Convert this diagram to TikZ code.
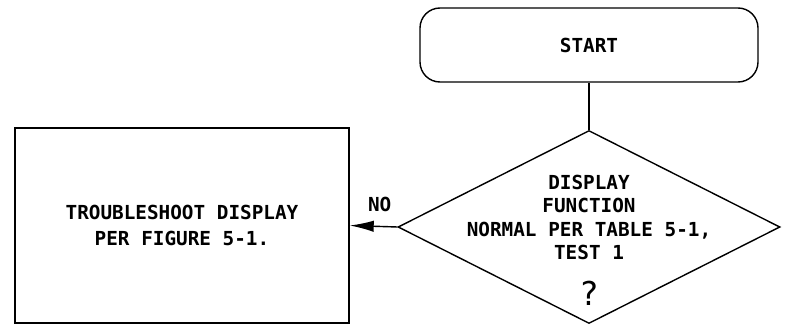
\documentclass[tikz,border=0pt]{standalone}
\usepackage{fontspec}
\setmonofont{DejaVu Sans Mono}
\usetikzlibrary{shapes.geometric, arrows.meta}

\begin{document}
\begin{tikzpicture}[
  font=\ttfamily\bfseries\fontsize{16.5}{20}\selectfont,
  every path/.style={line width=1.2pt},
  terminal/.style={draw, rounded corners=0.6cm, minimum width=10.14cm, minimum height=2.22cm, align=center},
  decision/.style={draw, diamond, inner sep=0pt, minimum width=11.46cm, minimum height=5.79cm},
  procbox/.style={draw, minimum width=10.02cm, minimum height=5.85cm, align=center},
  arrow/.style={-{Latex[length=0.72cm, width=0.34cm]}}
]
\useasboundingbox (0,0) rectangle (23.61,9.75);

% Nodes
\node[terminal] (start) at (17.67, 8.4) {START};
\node[decision] (check) at (17.67, 2.94) {};
\node[align=center] (checktext) at (17.67, 3.22) {DISPLAY\\FUNCTION\\NORMAL PER TABLE 5-1,\\TEST 1};
\node[font=\ttfamily\fontsize{28}{30}\selectfont] (query) at (17.67, 0.96) {?};
\node[procbox, font=\ttfamily\bfseries\fontsize{16.5}{22}\selectfont] (fix) at (5.46, 2.985) {TROUBLESHOOT DISPLAY\\PER FIGURE 5-1.};

% Arrows
\draw (start.south) -- (check.north);
\draw[arrow] (check.west) -- node[pos=0.37, above=0.3cm] {NO} (fix.east);

\end{tikzpicture}
\end{document}
